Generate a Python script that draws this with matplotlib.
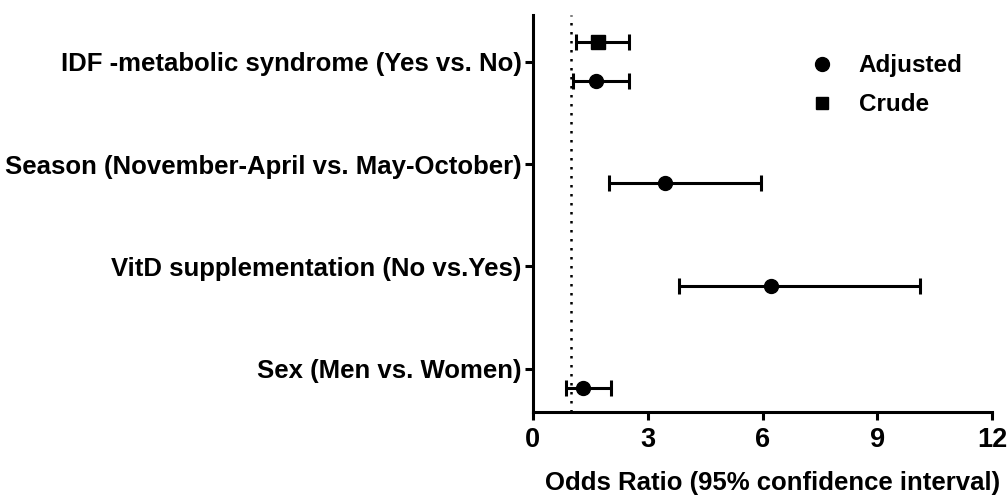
import numpy as np
import matplotlib
matplotlib.use('Agg')
import matplotlib.pyplot as plt
from matplotlib.lines import Line2D

plt.rcParams['font.family'] = ['Liberation Sans', 'DejaVu Sans']
plt.rcParams['font.weight'] = 'bold'

# data
categories = ['IDF -metabolic syndrome (Yes vs. No)',
              'Season (November-April vs. May-October)',
              'VitD supplementation (No vs.Yes)',
              'Sex (Men vs. Women)']
adj_or = [1.64, 3.45, 6.21, 1.32]
adj_low = [1.04, 2.00, 3.81, 0.86]
adj_high = [2.52, 5.95, 10.11, 2.04]
crude_or = [1.70]
crude_low = [1.13]
crude_high = [2.52]


def main():
    fig = plt.figure(figsize=(10.08, 4.97), dpi=100)
    ax = fig.add_axes([0.5285, 0.1716, 0.456, 0.798])

    ypos = np.arange(len(categories))
    adj_or_a = np.array(adj_or)
    adj_err = [adj_or_a - np.array(adj_low), np.array(adj_high) - adj_or_a]
    cr_or_a = np.array(crude_or)
    cr_err = [cr_or_a - np.array(crude_low), np.array(crude_high) - cr_or_a]

    # reference line at OR = 1
    ax.axvline(1, color='black', linestyle=(0, (1, 2.6)), linewidth=1.8, zorder=1)

    ax.errorbar(adj_or_a, ypos + 0.19, xerr=adj_err, fmt='o', color='black',
                markersize=10, elinewidth=2.2, capsize=5.5, capthick=2.2, zorder=3)
    ax.errorbar(cr_or_a, ypos[:len(crude_or)] - 0.19, xerr=cr_err, fmt='s', color='black',
                markersize=9.5, elinewidth=2.2, capsize=5.5, capthick=2.2, zorder=3)

    ax.set_xlim(0, 12)
    ax.set_ylim(3.42, -0.455)
    ax.set_xticks([0, 3, 6, 9, 12])
    ax.set_yticks(ypos)
    ax.set_yticklabels(categories, fontsize=18.5, fontweight='bold')
    ax.tick_params(axis='x', labelsize=19.5, width=2.2, length=6, pad=5)
    ax.tick_params(axis='y', width=2.2, length=6, pad=2)
    for lab in ax.get_xticklabels():
        lab.set_fontweight('bold')

    ax.spines['top'].set_visible(False)
    ax.spines['right'].set_visible(False)
    ax.spines['left'].set_linewidth(2.2)
    ax.spines['bottom'].set_linewidth(2.2)

    ax.set_xlabel('Odds Ratio (95% confidence interval)', fontsize=18.5,
                  fontweight='bold')
    ax.xaxis.set_label_coords(0.522, -0.149)

    handles = [Line2D([], [], marker='o', color='black', linestyle='none', markersize=10),
               Line2D([], [], marker='s', color='black', linestyle='none', markersize=9)]
    ax.legend(handles, ['Adjusted', 'Crude'], loc='upper right', frameon=False,
              prop={'size': 17.5, 'weight': 'bold'}, bbox_to_anchor=(0.983, 0.956),
              handlelength=2.0, handletextpad=0.5, labelspacing=0.65)

    fig.savefig('out.png', dpi=100)


if __name__ == '__main__':
    main()
